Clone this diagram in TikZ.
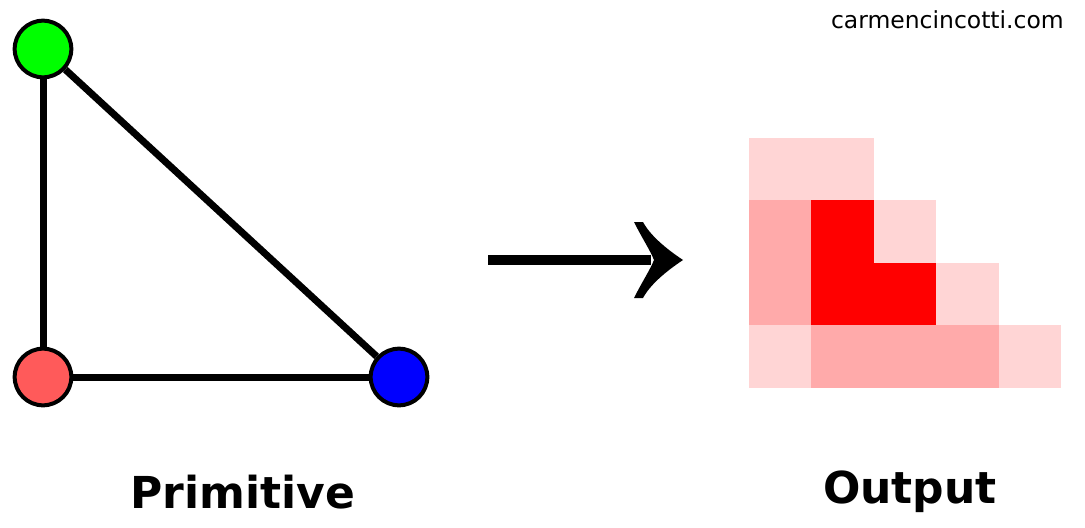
\documentclass[tikz,border=0pt]{standalone}
\usepackage{fontspec}
\setmainfont{DejaVu Sans}
\usepackage{xcolor}
\usetikzlibrary{positioning,calc}

\definecolor{vgreen}{HTML}{00FF00}
\definecolor{vred}{HTML}{FF5A5A}
\definecolor{vblue}{HTML}{0000FF}
\definecolor{fraglight}{HTML}{FFD5D5}
\definecolor{fragmid}{HTML}{FFAAAA}
\definecolor{fragfull}{HTML}{FF0000}

\begin{document}
\begin{tikzpicture}[
  x=0.75pt, y=-0.75pt,
  vertex/.style={circle, draw, line width=3pt, inner sep=0pt, minimum size=42.5pt},
  edge/.style={line width=5.25pt},
  cell/.style={inner sep=0pt, minimum size=46.9pt},
  title/.style={anchor=base, font=\fontsize{33}{40}\selectfont\bfseries}
]
  \useasboundingbox (0,0) rectangle (1085,528);

  % Primitive
  \node[vertex, fill=vgreen] (v1) at (43,49) {};
  \node[vertex, fill=vred] (v2) at (43,377) {};
  \node[vertex, fill=vblue] (v3) at (399,377) {};
  \draw[edge] (v1) -- (v2);
  \draw[edge] (v2) -- (v3);
  \draw[edge] (v1) -- (v3);

  % Arrow
  \coordinate (arrowstart) at (488,260);
  \coordinate (arrowtip) at (683,260);
  \draw[line width=7.5pt] (arrowstart) -- ($(arrowtip)+(-32,0)$);
  \fill[shift={(arrowtip)}] (0,0) .. controls (-18,-12) and (-33,-25) .. (-40,-38)
    -- (-49,-38) .. controls (-41,-22) and (-33,-10) .. (-29,0)
    .. controls (-33,10) and (-41,22) .. (-49,38)
    -- (-40,38) .. controls (-33,25) and (-18,12) .. (0,0) -- cycle;

  % Output fragments
  \foreach \col/\row/\shade in {0/0/fraglight, 1/0/fraglight,
      0/1/fragmid, 1/1/fragfull, 2/1/fraglight,
      0/2/fragmid, 1/2/fragfull, 2/2/fragfull, 3/2/fraglight,
      0/3/fraglight, 1/3/fragmid, 2/3/fragmid, 3/3/fragmid, 4/3/fraglight}
    \node[cell, fill=\shade] (cell-\col-\row) at ({749+62.4*(\col+0.5)},{138+62.4*(\row+0.5)}) {};

  % Labels
  \node[title] (primlabel) at (243,508) {Primitive};
  \node[title] (outlabel) at (910,503) {Output};
  \node[anchor=base east, inner sep=0pt, font=\fontsize{17.6}{21}\selectfont] (site) at (1064,29) {carmencincotti.com};
\end{tikzpicture}
\end{document}
